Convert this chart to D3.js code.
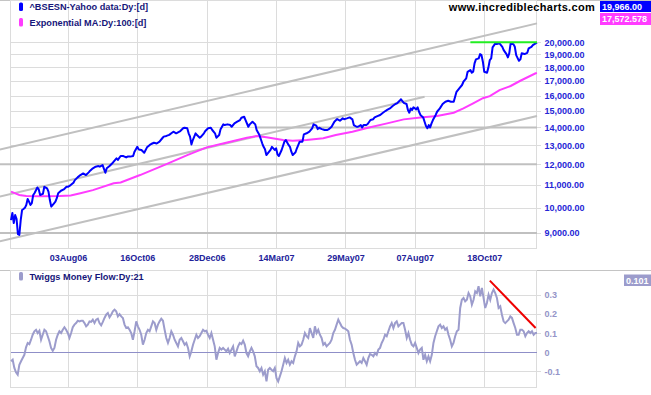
<!DOCTYPE html>
<html>
<head>
<meta charset="utf-8">
<script src="https://cdn.jsdelivr.net/npm/d3@7"></script>
<style>
  html, body { margin: 0; padding: 0; background: #fff; }
  svg { display: block; font-family: "Liberation Sans", Arial, sans-serif; }
</style>
</head>
<body>
<div id="chart"></div>
<script>
// x axis: trading-day index of each label
const lastDay = 379;
const tickDays = [41, 91, 141, 191, 241, 291, 341];
const tickLabels = ["03Aug06", "16Oct06", "28Dec06", "14Mar07", "29May07", "07Aug07", "18Oct07"];

const priceTicks = [9000, 10000, 11000, 12000, 13000, 14000, 15000, 16000, 17000, 18000, 19000, 20000];
const flowTicks = [-0.1, 0, 0.1, 0.2, 0.3];

// BSE Sensex close
const priceDays = [0,1,2,3,4,5,6,7,8,9,10,11,12,13,14,15,16,17,19,20,21,23,24,26,27,28,29,31,32,33,34,36,38,40,41,43,45,46,48,50,52,54,56,57,59,61,63,64,66,68,69,71,73,74,76,77,79,81,83,84,86,88,89,91,92,94,96,98,100,101,103,105,107,109,110,112,114,116,117,119,122,124,125,127,128,129,130,131,133,134,136,137,139,140,142,144,145,147,148,150,151,153,154,156,158,159,161,163,165,166,168,169,171,172,174,176,177,179,181,182,183,184,185,187,188,190,191,192,193,195,197,198,200,201,202,203,205,206,208,210,211,213,215,217,218,220,221,222,224,226,228,229,231,233,235,237,239,240,242,244,246,247,249,250,252,253,254,256,257,259,261,262,264,266,268,270,271,273,275,277,278,280,281,283,285,286,287,288,289,290,292,293,294,295,297,298,299,300,301,302,303,304,306,307,309,311,313,315,317,319,320,321,323,325,326,328,329,331,332,333,334,335,337,338,339,340,341,343,344,345,346,347,349,350,352,354,355,357,358,359,360,362,363,364,366,367,368,370,372,373,375,376,378,379];
const priceValues = [9500,9790,9380,9700,9550,8960,8930,9500,9910,9950,10000,10120,10380,10260,10120,10200,10550,10640,10890,10800,10550,10600,10920,10850,10700,10330,10050,10190,10260,10410,10630,10740,10800,10920,10920,11000,11110,11230,11360,11470,11550,11470,11600,11680,11800,11880,11910,11880,11960,11580,11800,11910,12050,12130,12300,12220,12420,12420,12350,12390,12390,12420,12650,12910,12770,12740,12590,12880,13010,13060,13130,13090,13190,13380,13470,13510,13570,13690,13750,13660,13790,13950,13980,13950,13660,13470,13040,13280,13660,13560,13410,13470,13660,13790,13950,13980,13850,13660,13410,13560,13900,14180,14140,14180,14140,14040,14240,14340,14440,14580,14640,14440,14040,14180,14340,14180,13850,13560,13100,12910,12780,12470,12560,12740,12910,12740,12830,12510,12420,12740,13190,13280,13010,12910,12650,12470,12620,12830,13190,13190,13600,13660,13750,13950,14180,14100,13900,13980,13900,13850,13850,13900,14040,14340,14500,14400,14540,14490,14540,14600,14480,14140,14040,14040,14140,14000,14140,14140,14200,14440,14490,14600,14680,14750,14890,15010,15060,15160,15310,15440,15480,15650,15750,15520,15440,15060,14890,15160,15060,15230,15100,15230,14950,14750,14600,14340,14080,13950,14140,14000,14240,14440,14750,14950,15160,15440,15590,15650,15590,15590,15920,16250,16490,16720,16950,17190,17670,17800,17600,17670,18300,18610,18690,19030,18950,18430,17670,17600,18000,18560,18690,19570,19900,19840,19900,19620,19350,19030,18770,19090,19900,19840,19620,18950,18500,18610,19090,19030,19130,19490,19620,19760,19900,19966];

// 100-day exponential moving average
const emaDays = [0,6,11,21,35,43,50,59,74,79,93,112,127,141,155,170,177,184,196,203,213,225,234,246,258,271,283,295,307,319,326,333,340,345,352,360,367,378,379];
const emaValues = [10700,10550,10510,10500,10510,10530,10630,10770,11080,11120,11470,12010,12470,12880,13130,13410,13500,13430,13280,13240,13280,13380,13560,13750,14000,14240,14480,14600,14680,14890,15160,15480,15820,15960,16370,16650,17020,17560,17572.578];

// Twiggs Money Flow, evenly spaced from first to last day
const flowValues = [
  -0.047,-0.039,-0.082,-0.105,-0.117,-0.065,-0.047,-0.030,-0.013,0.026,
  0.049,0.043,0.066,0.092,0.110,0.118,0.101,0.113,0.066,0.092,
  0.118,0.110,0.084,0.058,0.023,0.008,0.023,0.066,0.092,0.110,
  0.101,0.118,0.131,0.118,0.101,0.075,0.101,0.131,0.145,0.153,
  0.165,0.162,0.165,0.165,0.153,0.136,0.145,0.162,0.159,0.171,
  0.153,0.171,0.176,0.153,0.141,0.159,0.180,0.197,0.206,0.183,
  0.197,0.215,0.223,0.215,0.188,0.200,0.188,0.180,0.145,0.127,
  0.131,0.118,0.101,0.066,0.110,0.162,0.136,0.118,0.092,0.040,
  0.066,0.101,0.118,0.110,0.136,0.162,0.153,0.118,0.145,0.162,
  0.176,0.165,0.118,0.075,0.049,0.075,0.110,0.092,0.066,0.049,
  0.031,0.066,0.075,0.058,0.040,0.049,0.023,-0.021,0.005,0.040,
  0.066,0.092,0.075,0.084,0.101,0.118,0.110,0.113,0.092,0.075,
  0.101,0.066,0.031,-0.039,-0.004,0.023,0.014,0.023,0.014,0.005,
  0.019,-0.004,0.014,0.031,-0.021,0.005,0.031,0.049,0.043,0.061,
  0.040,-0.004,-0.021,0.005,0.023,0.005,-0.021,-0.073,-0.082,-0.099,
  -0.082,-0.117,-0.099,-0.152,-0.091,
  -0.082,-0.091,-0.099,-0.082,-0.135,-0.152,-0.126,-0.099,-0.065,-0.030,
  -0.056,-0.039,-0.065,-0.047,-0.056,-0.021,0.005,0.049,0.031,0.040,
  0.066,0.101,0.084,0.075,0.127,0.101,0.075,0.136,0.101,0.118,
  0.092,0.075,0.040,0.049,0.031,0.040,0.049,0.066,0.101,0.118,
  0.145,0.171,0.153,0.136,0.127,0.124,0.118,0.110,0.066,0.040,
  -0.004,-0.039,-0.065,-0.056,-0.047,-0.056,-0.030,-0.047,-0.065,-0.030,
  -0.009,-0.013,-0.021,-0.004,-0.013,0.014,0.023,0.049,0.066,0.092,
  0.084,0.110,0.136,0.153,0.127,0.153,0.162,0.136,0.145,0.153,
  0.153,0.118,0.075,0.101,0.066,0.040,0.031,0.049,0.023,-0.004,
  0.014,0.023,-0.039,-0.013,-0.047,-0.021,-0.047,-0.013,0.049,0.084,
  0.110,0.136,0.145,0.127,0.136,0.118,0.127,0.092,0.066,0.031,
  0.049,0.084,0.110,0.118,0.232,0.275,0.284,0.267,0.275,0.310,
  0.293,0.249,0.275,0.319,0.310,0.346,0.293,0.337,0.284,0.232,
  0.258,0.302,0.275,0.310,0.328,0.310,0.284,0.232,0.241,0.197,
  0.162,0.153,0.162,0.171,0.188,0.180,0.153,0.127,0.092,0.092,
  0.118,0.118,0.110,0.084,0.101,0.110,0.101,0.110,0.092,0.101,
  0.101
];

// hand-drawn trendlines, as [day, value] pairs
const channelLines = [
  [[-8, 12760], [379, 21640]],
  [[-8, 10480], [298, 15920]],
  [[-8, 8690], [379, 14680]]
];
const supportLines = [
  { from: -8, to: 379, value: 9000 },
  { from: -8, to: 379, value: 12000 },
  { from: 176, to: 379, value: 14000 }
];
const resistanceLine = { from: 331, to: 379, value: 20000 };
const flowTrend = [[345, 0.375], [378, 0.127]];

const width = 651, height = 395;
const left = 10.5, right = 536.5;
const topPanel = { top: 0.5, bottom: 248.5 };
const flowPanel = { top: 270.5, bottom: 387 };

const svg = d3.select("#chart")
  .append("svg")
    .attr("width", width)
    .attr("height", height);

const x = d3.scaleLinear().domain([0, lastDay]).range([11, 537]);
const y = d3.scaleLog().domain([9000, 20000]).range([233, 42.2]);
const yF = d3.scaleLinear().domain([0, 0.3]).range([352.3, 295]);

// panel top borders
[topPanel.top, flowPanel.top].forEach(t => {
  svg.append("line")
    .attr("x1", 0).attr("x2", width)
    .attr("y1", t).attr("y2", t)
    .attr("stroke", "#c4c4c4");
});

// grid
const grid = svg.append("g")
  .attr("stroke", "#dcdcdc")
  .attr("shape-rendering", "crispEdges");

[topPanel, flowPanel].forEach(p => {
  grid.selectAll(null)
    .data(tickDays)
    .join("line")
      .attr("x1", d => Math.round(x(d)) + 0.5)
      .attr("x2", d => Math.round(x(d)) + 0.5)
      .attr("y1", p.top).attr("y2", p.bottom);
  grid.append("rect")
    .attr("x", left).attr("y", p.top)
    .attr("width", right - left).attr("height", p.bottom - p.top)
    .attr("fill", "none");
});

grid.selectAll(null)
  .data(priceTicks)
  .join("line")
    .attr("x1", left).attr("x2", right + 4)
    .attr("y1", d => Math.round(y(d)) + 0.5)
    .attr("y2", d => Math.round(y(d)) + 0.5);

grid.selectAll(null)
  .data(flowTicks.filter(d => d !== 0))
  .join("line")
    .attr("x1", left).attr("x2", right + 4)
    .attr("y1", d => Math.round(yF(d)) + 0.5)
    .attr("y2", d => Math.round(yF(d)) + 0.5);

// zero line of the money flow
svg.append("line")
  .attr("x1", left).attr("x2", right)
  .attr("y1", Math.round(yF(0)) + 0.5).attr("y2", Math.round(yF(0)) + 0.5)
  .attr("stroke", "#8f8fc8")
  .attr("shape-rendering", "crispEdges");

// trendlines
const trend = svg.append("g")
  .attr("stroke", "#c0c0c0")
  .attr("stroke-width", 2)
  .attr("fill", "none");

trend.selectAll(null)
  .data(channelLines)
  .join("line")
    .attr("x1", d => x(d[0][0])).attr("y1", d => y(d[0][1]))
    .attr("x2", d => x(d[1][0])).attr("y2", d => y(d[1][1]));

trend.selectAll(null)
  .data(supportLines)
  .join("line")
    .attr("x1", d => x(d.from)).attr("x2", d => x(d.to))
    .attr("y1", d => y(d.value)).attr("y2", d => y(d.value));

// price and moving average
const ema = emaDays.map((d, i) => [d, emaValues[i]]);
const price = priceDays.map((d, i) => [d, priceValues[i]]);

const line = d3.line()
  .x(d => x(d[0]))
  .y(d => y(d[1]));

svg.append("path")
  .attr("d", line(ema))
  .attr("fill", "none")
  .attr("stroke", "#ff3cff")
  .attr("stroke-width", 2);

svg.append("path")
  .attr("d", line(price))
  .attr("fill", "none")
  .attr("stroke", "#0000ff")
  .attr("stroke-width", 2)
  .attr("stroke-linejoin", "round");

svg.append("line")
  .attr("x1", x(resistanceLine.from)).attr("x2", x(resistanceLine.to))
  .attr("y1", y(resistanceLine.value)).attr("y2", y(resistanceLine.value))
  .attr("stroke", "#22ee22")
  .attr("stroke-width", 2);

// money flow
const flowStep = lastDay / (flowValues.length - 1);
const flowLine = d3.line()
  .x((d, i) => x(i * flowStep))
  .y(d => yF(d));

svg.append("path")
  .attr("d", flowLine(flowValues))
  .attr("fill", "none")
  .attr("stroke", "#9c9ccc")
  .attr("stroke-width", 2);

svg.append("line")
  .attr("x1", x(flowTrend[0][0])).attr("y1", yF(flowTrend[0][1]))
  .attr("x2", x(flowTrend[1][0])).attr("y2", yF(flowTrend[1][1]))
  .attr("stroke", "#ee0000")
  .attr("stroke-width", 2);

// axes
const styleAxis = (g, color) => {
  g.select(".domain").remove();
  g.selectAll("text")
    .attr("fill", color)
    .attr("font-family", "Liberation Sans, Arial, sans-serif")
    .attr("font-size", 9)
    .attr("font-weight", "bold");
};

svg.append("g")
  .attr("transform", `translate(${right},0)`)
  .call(d3.axisRight(y).tickValues(priceTicks).tickFormat(d3.format(",.2f")).tickSize(0).tickPadding(8))
  .call(g => styleAxis(g, "#2626d6"));

svg.append("g")
  .attr("transform", `translate(0,${topPanel.bottom})`)
  .call(d3.axisBottom(x).tickValues(tickDays).tickFormat((d, i) => tickLabels[i]).tickSize(0).tickPadding(6))
  .call(g => styleAxis(g, "#22229a"));

svg.append("g")
  .attr("transform", `translate(${right},0)`)
  .call(d3.axisRight(yF).tickValues(flowTicks).tickFormat(d => String(d)).tickSize(0).tickPadding(8))
  .call(g => styleAxis(g, "#9494c8"));

// legends
const legend = [
  { label: "^BSESN-Yahoo data:Dy:[d]", color: "#0000ff", y: 10 },
  { label: "Exponential MA:Dy:100:[d]", color: "#ff3cff", y: 25.5 },
  { label: "Twiggs Money Flow:Dy:21", color: "#9c9ccc", y: 279.5 }
];

const lg = svg.append("g");
lg.selectAll("rect")
  .data(legend)
  .join("rect")
    .attr("x", 19).attr("y", d => d.y - 7.5)
    .attr("width", 4).attr("height", 8.5)
    .attr("rx", 1.5)
    .attr("fill", d => d.color);
lg.selectAll("text")
  .data(legend)
  .join("text")
    .attr("x", 29.5).attr("y", d => d.y)
    .attr("font-size", 9.2)
    .attr("font-weight", "bold")
    .attr("fill", "#16167a")
    .text(d => d.label);

svg.append("text")
  .attr("x", 595).attr("y", 10.5)
  .attr("text-anchor", "end")
  .attr("font-size", 11)
  .attr("font-weight", "bold")
  .attr("letter-spacing", 0.3)
  .attr("fill", "#000")
  .text("www.incrediblecharts.com");

// last values
const lastBoxes = [
  { text: d3.format(",.2f")(priceValues[priceValues.length - 1]), color: "#0000ff", x: 600, y: 1, h: 11 },
  { text: d3.format(",.3f")(emaValues[emaValues.length - 1]), color: "#ff3cff", x: 600, y: 13, h: 12 },
  { text: d3.format(".3f")(flowValues[flowValues.length - 1]), color: "#9c9ccc", x: 624, y: 274.5, h: 11.5 }
];

const boxes = svg.selectAll(".last")
  .data(lastBoxes)
  .join("g")
    .attr("class", "last");
boxes.append("rect")
  .attr("x", d => d.x).attr("y", d => d.y)
  .attr("width", d => width - d.x).attr("height", d => d.h)
  .attr("fill", d => d.color);
boxes.append("text")
  .attr("x", d => d.x + 2).attr("y", d => d.y + d.h / 2 + 3.3)
  .attr("font-size", 9)
  .attr("font-weight", "bold")
  .attr("fill", "#fff")
  .text(d => d.text);
</script>
</body>
</html>
